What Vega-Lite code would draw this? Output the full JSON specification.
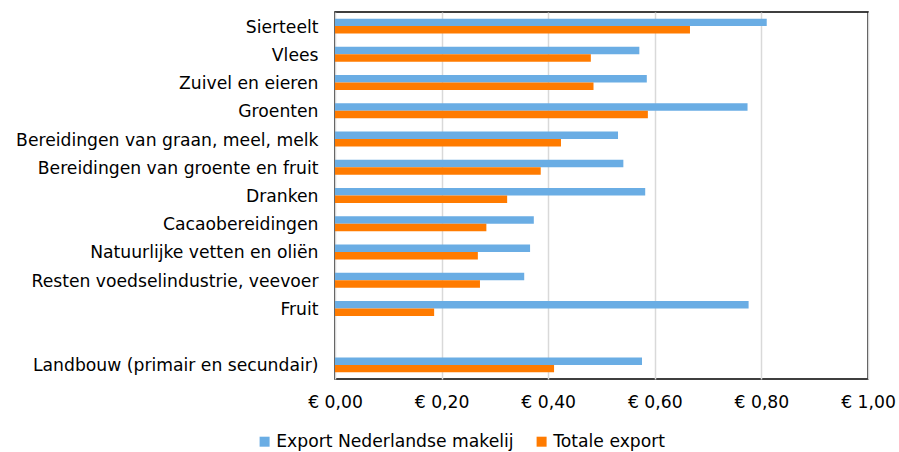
{
  "$schema": "https://vega.github.io/schema/vega-lite/v6.json",
  "autosize": "none",
  "padding": {"left": 335, "top": 12, "right": 31, "bottom": 73},
  "width": 533,
  "height": 367,
  "background": "white",
  "config": {
    "font": "DejaVu Sans",
    "view": {"stroke": "#000000", "strokeWidth": 1.5},
    "axis": {"labelFont": "DejaVu Sans", "labelFontSize": 17.2, "labelColor": "#000000", "labelLimit": 400},
    "legend": {"labelFont": "DejaVu Sans", "labelFontSize": 17.2, "labelColor": "#000000", "labelLimit": 400}
  },
  "data": {
    "values": [
      {"categorie": "Sierteelt", "reeks": "Export Nederlandse makelij", "waarde": 0.810},
      {"categorie": "Sierteelt", "reeks": "Totale export", "waarde": 0.666},
      {"categorie": "Vlees", "reeks": "Export Nederlandse makelij", "waarde": 0.571},
      {"categorie": "Vlees", "reeks": "Totale export", "waarde": 0.480},
      {"categorie": "Zuivel en eieren", "reeks": "Export Nederlandse makelij", "waarde": 0.585},
      {"categorie": "Zuivel en eieren", "reeks": "Totale export", "waarde": 0.485},
      {"categorie": "Groenten", "reeks": "Export Nederlandse makelij", "waarde": 0.774},
      {"categorie": "Groenten", "reeks": "Totale export", "waarde": 0.587},
      {"categorie": "Bereidingen van graan, meel, melk", "reeks": "Export Nederlandse makelij", "waarde": 0.531},
      {"categorie": "Bereidingen van graan, meel, melk", "reeks": "Totale export", "waarde": 0.424},
      {"categorie": "Bereidingen van groente en fruit", "reeks": "Export Nederlandse makelij", "waarde": 0.541},
      {"categorie": "Bereidingen van groente en fruit", "reeks": "Totale export", "waarde": 0.386},
      {"categorie": "Dranken", "reeks": "Export Nederlandse makelij", "waarde": 0.582},
      {"categorie": "Dranken", "reeks": "Totale export", "waarde": 0.323},
      {"categorie": "Cacaobereidingen", "reeks": "Export Nederlandse makelij", "waarde": 0.373},
      {"categorie": "Cacaobereidingen", "reeks": "Totale export", "waarde": 0.284},
      {"categorie": "Natuurlijke vetten en oliën", "reeks": "Export Nederlandse makelij", "waarde": 0.366},
      {"categorie": "Natuurlijke vetten en oliën", "reeks": "Totale export", "waarde": 0.268},
      {"categorie": "Resten voedselindustrie, veevoer", "reeks": "Export Nederlandse makelij", "waarde": 0.355},
      {"categorie": "Resten voedselindustrie, veevoer", "reeks": "Totale export", "waarde": 0.272},
      {"categorie": "Fruit", "reeks": "Export Nederlandse makelij", "waarde": 0.776},
      {"categorie": "Fruit", "reeks": "Totale export", "waarde": 0.186},
      {"categorie": "Landbouw (primair en secundair)", "reeks": "Export Nederlandse makelij", "waarde": 0.576},
      {"categorie": "Landbouw (primair en secundair)", "reeks": "Totale export", "waarde": 0.411}
    ]
  },
  "mark": {"type": "bar"},
  "encoding": {
    "y": {
      "field": "categorie",
      "type": "nominal",
      "scale": {
        "domain": ["Sierteelt", "Vlees", "Zuivel en eieren", "Groenten", "Bereidingen van graan, meel, melk", "Bereidingen van groente en fruit", "Dranken", "Cacaobereidingen", "Natuurlijke vetten en oliën", "Resten voedselindustrie, veevoer", "Fruit", " ", "Landbouw (primair en secundair)"],
        "paddingInner": 0.47,
        "paddingOuter": 0.235
      },
      "axis": {"title": null, "ticks": false, "domain": false, "labelPadding": 17, "labelOffset": 1.5, "grid": false}
    },
    "yOffset": {
      "field": "reeks",
      "type": "nominal",
      "scale": {"domain": ["Export Nederlandse makelij", "Totale export"], "paddingInner": 0, "paddingOuter": 0}
    },
    "x": {
      "field": "waarde",
      "type": "quantitative",
      "scale": {"domain": [0, 1], "nice": false},
      "axis": {
        "title": null,
        "values": [0, 0.2, 0.4, 0.6, 0.8, 1.0],
        "labelExpr": "'€ ' + replace(format(datum.value, '.2f'), '.', ',')",
        "labelFlush": false,
        "labelOverlap": false,
        "ticks": false,
        "domain": false,
        "labelPadding": 14,
        "grid": true,
        "gridColor": "#d9d9d9",
        "gridWidth": 1.5
      }
    },
    "color": {
      "field": "reeks",
      "type": "nominal",
      "scale": {"domain": ["Export Nederlandse makelij", "Totale export"], "range": ["#6aade4", "#ff7b00"]},
      "legend": {
        "title": null,
        "orient": "none",
        "direction": "horizontal",
        "legendX": -79,
        "legendY": 421,
        "symbolType": "square",
        "symbolSize": 100,
        "symbolStrokeWidth": 0,
        "labelOffset": 3,
        "columnPadding": 19
      }
    }
  }
}
